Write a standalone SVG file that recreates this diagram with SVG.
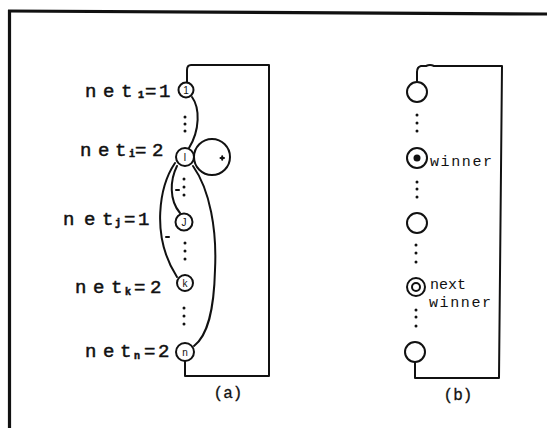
<svg xmlns="http://www.w3.org/2000/svg" width="547" height="428" viewBox="0 0 547 428">
<style>
.w{fill:none;stroke:#111;stroke-width:2;stroke-linecap:round;stroke-linejoin:round}
.n{fill:#fff;stroke:#111;stroke-width:2}
.lb{font-family:"Liberation Mono",monospace;font-size:19px;fill:#111;stroke:#111;stroke-width:0.5}
.sb{font-family:"Liberation Mono",monospace;font-size:10px;fill:#111;font-weight:bold}
.in{font-family:"Liberation Sans",sans-serif;font-size:10px;fill:#111;text-anchor:middle}
.t{font-family:"Liberation Mono",monospace;font-size:15px;fill:#111}
.cap{font-family:"Liberation Mono",monospace;font-size:16px;fill:#111;text-anchor:middle;stroke:#111;stroke-width:0.3}
.dot{fill:#111}
</style>
<rect width="547" height="428" fill="#fff"/>
<g id="frame">
<path d="M547,14 L8,11" stroke="#111" stroke-width="3.2" fill="none"/>
<path d="M9.5,10 L9.5,428" stroke="#111" stroke-width="3.2" fill="none"/>
</g>
<g id="connectors">
<path class="w" d="M185,361 V376 H269 V65 H191 Q187,65 187,70 V82"/>
<path class="w" d="M192,97 C200,108 200,130 189,148"/>
<path class="w" d="M177,166 C170,180 169,200 180,213"/>
<path class="w" d="M175,163 C160,185 150,235 177,277"/>
<path class="w" d="M193,166 C210,190 217,230 215,270 C214,310 208,335 194,346"/>
<path class="w" d="M415,362 V378 H499 L502,66 H434 Q430,64 426,66 L421,66 Q417,67 417,72 V81"/>
</g>
<g id="node-a1"><circle class="n" cx="186" cy="90" r="7.5"/><text class="in" x="186" y="94">1</text></g>
<g id="node-ai"><circle class="n" cx="212" cy="157" r="18" style="fill:none"/><path class="w" d="M220.5,158 h3.5 M222.2,156.3 v3.5" stroke-width="1.4"/><circle class="n" cx="185" cy="157" r="9"/><text class="in" x="185" y="161">I</text></g>
<g id="node-aj"><circle class="n" cx="184" cy="222" r="8.5"/><text class="in" x="184" y="226">J</text></g>
<g id="node-ak"><circle class="n" cx="185" cy="283" r="8"/><text class="in" x="185" y="287">k</text></g>
<g id="node-an"><circle class="n" cx="185" cy="352" r="9"/><text class="in" x="185" y="356">n</text></g>
<g id="dots-a">
<circle class="dot" cx="185" cy="117" r="1.5"/><circle class="dot" cx="185" cy="124" r="1.5"/><circle class="dot" cx="185" cy="131" r="1.5"/>
<circle class="dot" cx="184" cy="179" r="1.5"/><circle class="dot" cx="184" cy="187" r="1.5"/><circle class="dot" cx="184" cy="195" r="1.5"/>
<path class="w" d="M176,190 h3"/>
<circle class="dot" cx="185" cy="243" r="1.5"/><circle class="dot" cx="185" cy="251" r="1.5"/><circle class="dot" cx="185" cy="259" r="1.5"/>
<path class="w" d="M166,237 h3"/>
<circle class="dot" cx="184" cy="308" r="1.5"/><circle class="dot" cx="184" cy="316" r="1.5"/><circle class="dot" cx="184" cy="324" r="1.5"/>
</g>
<g id="labels-a">
<text class="lb" y="97"><tspan x="85 103 121">net</tspan><tspan class="sb" x="138" y="98">1</tspan><tspan x="145" y="97">=</tspan><tspan x="159">1</tspan></text>
<text class="lb" y="156"><tspan x="80 98 115">net</tspan><tspan class="sb" x="129" y="157">i</tspan><tspan x="135" y="156">=</tspan><tspan x="152">2</tspan></text>
<text class="lb" y="225"><tspan x="63 84 102">net</tspan><tspan class="sb" x="115" y="226">j</tspan><tspan x="124" y="225">=</tspan><tspan x="138">1</tspan></text>
<text class="lb" y="293"><tspan x="75 93 111">net</tspan><tspan class="sb" x="125" y="295">k</tspan><tspan x="134" y="293">=</tspan><tspan x="150">2</tspan></text>
<text class="lb" y="357"><tspan x="85 103 120">net</tspan><tspan class="sb" x="134" y="359">n</tspan><tspan x="144" y="357">=</tspan><tspan x="158">2</tspan></text>
<text class="cap" x="228" y="398">(a)</text>
</g>
<g id="node-b1"><circle class="n" cx="417" cy="92" r="10"/></g>
<g id="node-b-winner"><circle class="n" cx="417" cy="158" r="10"/><circle class="dot" cx="417" cy="158" r="3.5"/><text class="t" x="430" y="166" textLength="62">winner</text></g>
<g id="node-b3"><circle class="n" cx="417" cy="223" r="10"/></g>
<g id="node-b-next"><circle class="n" cx="416" cy="287" r="9"/><circle class="n" cx="416" cy="287" r="4"/><text class="t" x="430" y="289">next</text><text class="t" x="429" y="307" textLength="62">winner</text></g>
<g id="node-b5"><circle class="n" cx="415" cy="352" r="10"/></g>
<g id="dots-b">
<circle class="dot" cx="417" cy="115" r="1.5"/><circle class="dot" cx="417" cy="123" r="1.5"/><circle class="dot" cx="417" cy="131" r="1.5"/>
<circle class="dot" cx="417" cy="182" r="1.5"/><circle class="dot" cx="417" cy="189" r="1.5"/><circle class="dot" cx="417" cy="197" r="1.5"/>
<circle class="dot" cx="416" cy="245" r="1.5"/><circle class="dot" cx="416" cy="253" r="1.5"/><circle class="dot" cx="416" cy="262" r="1.5"/>
<circle class="dot" cx="416" cy="310" r="1.5"/><circle class="dot" cx="416" cy="317" r="1.5"/><circle class="dot" cx="416" cy="326" r="1.5"/>
</g>
<text class="cap" x="458" y="400">(b)</text>
</svg>
